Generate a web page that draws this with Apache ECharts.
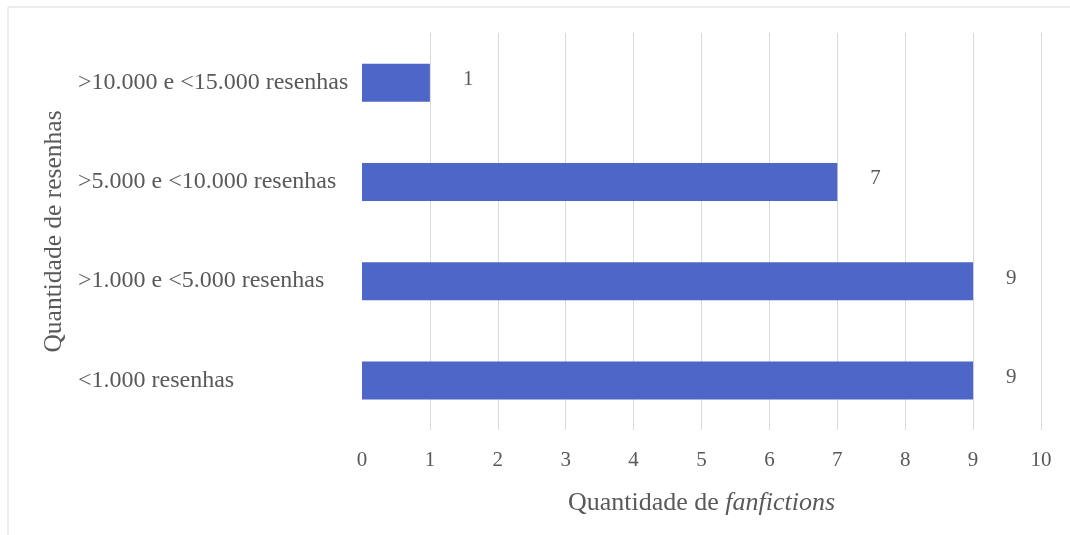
<!DOCTYPE html>
<html>
<head>
<meta charset="utf-8">
<script src="https://cdn.jsdelivr.net/npm/echarts@6/dist/echarts.min.js"></script>
<style>
  html, body { margin: 0; padding: 0; background: #fff; }
  #chart { width: 1070px; height: 535px; }
</style>
</head>
<body>
<div id="chart"></div>
<script>
// Review-count bands (bottom to top) and number of fanfictions in each
const categories = [
  '<1.000 resenhas',
  '>1.000 e <5.000 resenhas',
  '>5.000 e <10.000 resenhas',
  '>10.000 e <15.000 resenhas'
];
const fanfictionCounts = [9, 9, 7, 1];
const xTicks = [0, 1, 2, 3, 4, 5, 6, 7, 8, 9, 10];

const textColor = '#595959';
const fontFamily = '"Liberation Serif", "DejaVu Serif", serif';

const chart = echarts.init(document.getElementById('chart'));
chart.setOption({
  animation: false,
  backgroundColor: '#ffffff',
  graphic: [{
    type: 'rect',
    shape: { x: 8, y: 7, width: 1200, height: 700 },
    style: { fill: 'none', stroke: '#d9d9d9', lineWidth: 1 },
    silent: true
  }],
  grid: { left: 362, right: 29, top: 33, bottom: 105, containLabel: false },
  xAxis: {
    type: 'value',
    min: xTicks[0],
    max: xTicks[xTicks.length - 1],
    interval: 1,
    axisLine: { show: false },
    axisTick: { show: false },
    axisLabel: { color: textColor, fontFamily, fontSize: 21, margin: 20 },
    splitLine: { show: true, showMinLine: false, lineStyle: { color: '#d9d9d9', width: 1 } },
    name: '{n|Quantidade de }{i|fanfictions}',
    nameLocation: 'middle',
    nameGap: 60,
    nameTextStyle: {
      rich: {
        n: { color: textColor, fontFamily, fontSize: 26 },
        i: { color: textColor, fontFamily, fontSize: 26, fontStyle: 'italic' }
      }
    }
  },
  yAxis: {
    type: 'category',
    data: categories,
    axisLine: { show: false },
    axisTick: { show: false },
    splitLine: { show: false },
    axisLabel: { color: textColor, fontFamily, fontSize: 24, align: 'left', margin: 284, padding: [6, 0, 0, 0] },
    name: 'Quantidade de resenhas',
    nameLocation: 'middle',
    nameGap: 290,
    nameRotate: 90,
    nameTextStyle: { color: textColor, fontFamily, fontSize: 25.5 }
  },
  series: [{
    type: 'bar',
    data: fanfictionCounts,
    barWidth: 38,
    itemStyle: { color: '#4e66c7' },
    label: {
      show: true,
      position: 'right',
      distance: 33,
      offset: [0, -3],
      color: textColor,
      fontFamily,
      fontSize: 21
    }
  }]
});
</script>
</body>
</html>
